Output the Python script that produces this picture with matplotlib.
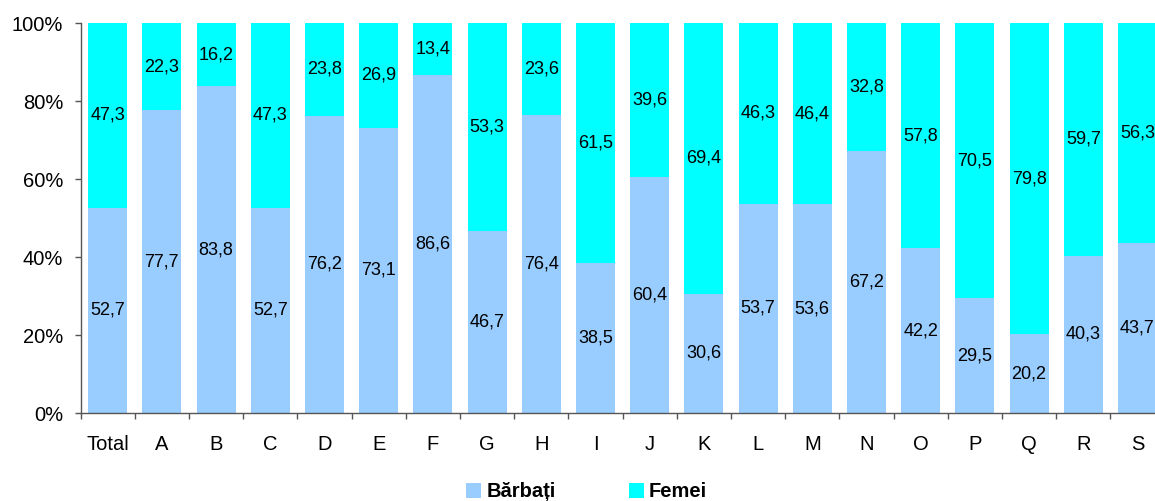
import matplotlib
matplotlib.use("Agg")
import matplotlib.pyplot as plt
import numpy as np
from matplotlib.ticker import FuncFormatter

plt.rcParams['font.family'] = ['Liberation Sans', 'DejaVu Sans']

## date
categorii = ['Total', 'A', 'B', 'C', 'D', 'E', 'F', 'G', 'H', 'I',
             'J', 'K', 'L', 'M', 'N', 'O', 'P', 'Q', 'R', 'S']
barbati = [52.7, 77.7, 83.8, 52.7, 76.2, 73.1, 86.6, 46.7, 76.4, 38.5,
           60.4, 30.6, 53.7, 53.6, 67.2, 42.2, 29.5, 20.2, 40.3, 43.7]
femei = [47.3, 22.3, 16.2, 47.3, 23.8, 26.9, 13.4, 53.3, 23.6, 61.5,
         39.6, 69.4, 46.3, 46.4, 32.8, 57.8, 70.5, 79.8, 59.7, 56.3]

c_barbati = '#99CCFF'
c_femei = '#00FFFF'

fig = plt.figure(figsize=(11.55, 5.01), dpi=100)
ax = fig.add_axes([0.0697, 0.1756, 0.9386, 0.7784])

x = np.arange(len(categorii))
b = np.array(barbati)
f = np.array(femei)
w = 0.72

ax.bar(x, b, width=w, color=c_barbati, label='Bărbați')
ax.bar(x, f, width=w, bottom=b, color=c_femei, label='Femei')

## etichete
def fmt(v):
    return f"{v:.1f}".replace('.', ',')

for i in range(len(x)):
    ax.text(x[i], b[i] / 2, fmt(b[i]), ha='center', va='center', fontsize=13)
    ax.text(x[i], b[i] + f[i] / 2, fmt(f[i]), ha='center', va='center', fontsize=13)

ax.set_xlim(-0.5, len(x) - 0.5)
ax.set_ylim(0, 100)
ax.set_yticks(np.arange(0, 101, 20))
ax.yaxis.set_major_formatter(FuncFormatter(lambda v, p: f"{int(v)}%"))
ax.set_xticks(x)
ax.set_xticklabels(categorii)
ax.set_xticks(np.arange(-0.5, len(x), 1), minor=True)

ax.tick_params(axis='x', which='major', length=0, pad=16, labelsize=14.5)
ax.tick_params(axis='x', which='minor', length=4.5, width=1, color='#555555', direction='out')
ax.tick_params(axis='y', length=4.5, width=1, color='#555555', pad=8, labelsize=14.5)

for s in ['top', 'right']:
    ax.spines[s].set_visible(False)
for s in ['left', 'bottom']:
    ax.spines[s].set_color('#555555')
    ax.spines[s].set_linewidth(1)

fig.legend(loc='center', bbox_to_anchor=(0.508, 0.018), ncol=2, frameon=False,
           handlelength=0.72, handleheight=0.72, handletextpad=0.26, columnspacing=3.66,
           borderpad=0, prop={'weight': 'bold', 'size': 14.5})

fig.savefig('out.png', dpi=100)
